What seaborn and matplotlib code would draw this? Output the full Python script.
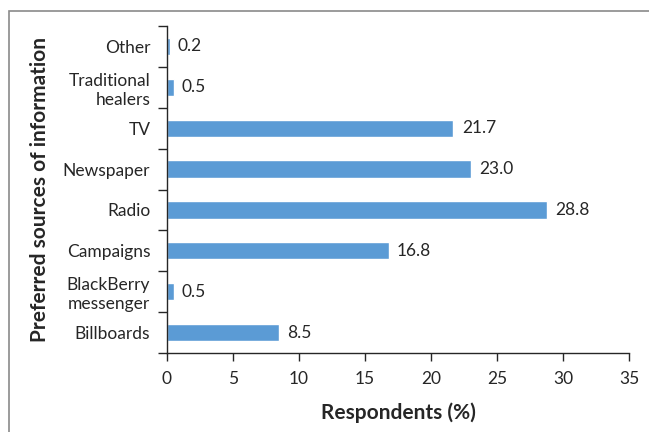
import matplotlib
matplotlib.use("Agg")
import matplotlib.pyplot as plt
from matplotlib.patches import Rectangle
import seaborn as sns
import pandas as pd

categories = ["Other", "Traditional\nhealers", "TV", "Newspaper", "Radio",
              "Campaigns", "BlackBerry\nmessenger", "Billboards"]
values = [0.2, 0.5, 21.7, 23.0, 28.8, 16.8, 0.5, 8.5]
x_ticks = [0, 5, 10, 15, 20, 25, 30, 35]

sns.set_theme(style="white")
plt.rcParams["font.family"] = ["Lato", "DejaVu Sans"]

df = pd.DataFrame({"source": categories, "pct": values})

fig = plt.figure(figsize=(6.49, 4.32), dpi=100)
ax = fig.add_axes([167 / 649, 1 - 353 / 432, (629 - 167) / 649, (353 - 26) / 432])

sns.barplot(data=df, x="pct", y="source", orient="h", color="#5B9BD5",
            saturation=1, width=0.42, ax=ax)

text_color = "#262626"
ax.set_xlim(0, 35)
ax.set_ylim(len(categories) - 0.5, -0.5)
ax.set_xticks(x_ticks)
ax.set_xticklabels([str(t) for t in x_ticks], fontsize=12.5, color=text_color)
ax.set_yticks(range(len(categories)))
ax.set_yticklabels(categories, fontsize=12.5, color=text_color, linespacing=1.25)
ax.set_yticks([i - 0.5 for i in range(len(categories) + 1)], minor=True)
ax.tick_params(axis="y", which="major", left=False, length=0, pad=12)
ax.tick_params(axis="y", which="minor", left=True, length=6.5, width=1,
               color=text_color, direction="out")
ax.tick_params(axis="x", which="major", bottom=True, length=6, width=1,
               color=text_color, direction="out", pad=7)

for side in ("top", "right"):
    ax.spines[side].set_visible(False)
for side in ("left", "bottom"):
    ax.spines[side].set_color(text_color)
    ax.spines[side].set_linewidth(1)

for container in ax.containers:
    ax.bar_label(container, fmt="%.1f", padding=6, fontsize=12.5, color=text_color)

ax.set_xlabel("Respondents (%)", fontsize=15, fontweight="bold", color=text_color)
ax.set_ylabel("Preferred sources of information", fontsize=15, fontweight="bold",
              color=text_color)
ax.xaxis.set_label_coords(0.5, -0.152)
ax.yaxis.set_label_coords(-0.253, 0.5)

fig.patches.append(Rectangle((9 / 649, -0.1), 1.2, 1 - 11 / 432 + 0.1,
                             transform=fig.transFigure, fill=False,
                             edgecolor="#8a8a8a", linewidth=1.2))

fig.savefig("out.png", dpi=100)
